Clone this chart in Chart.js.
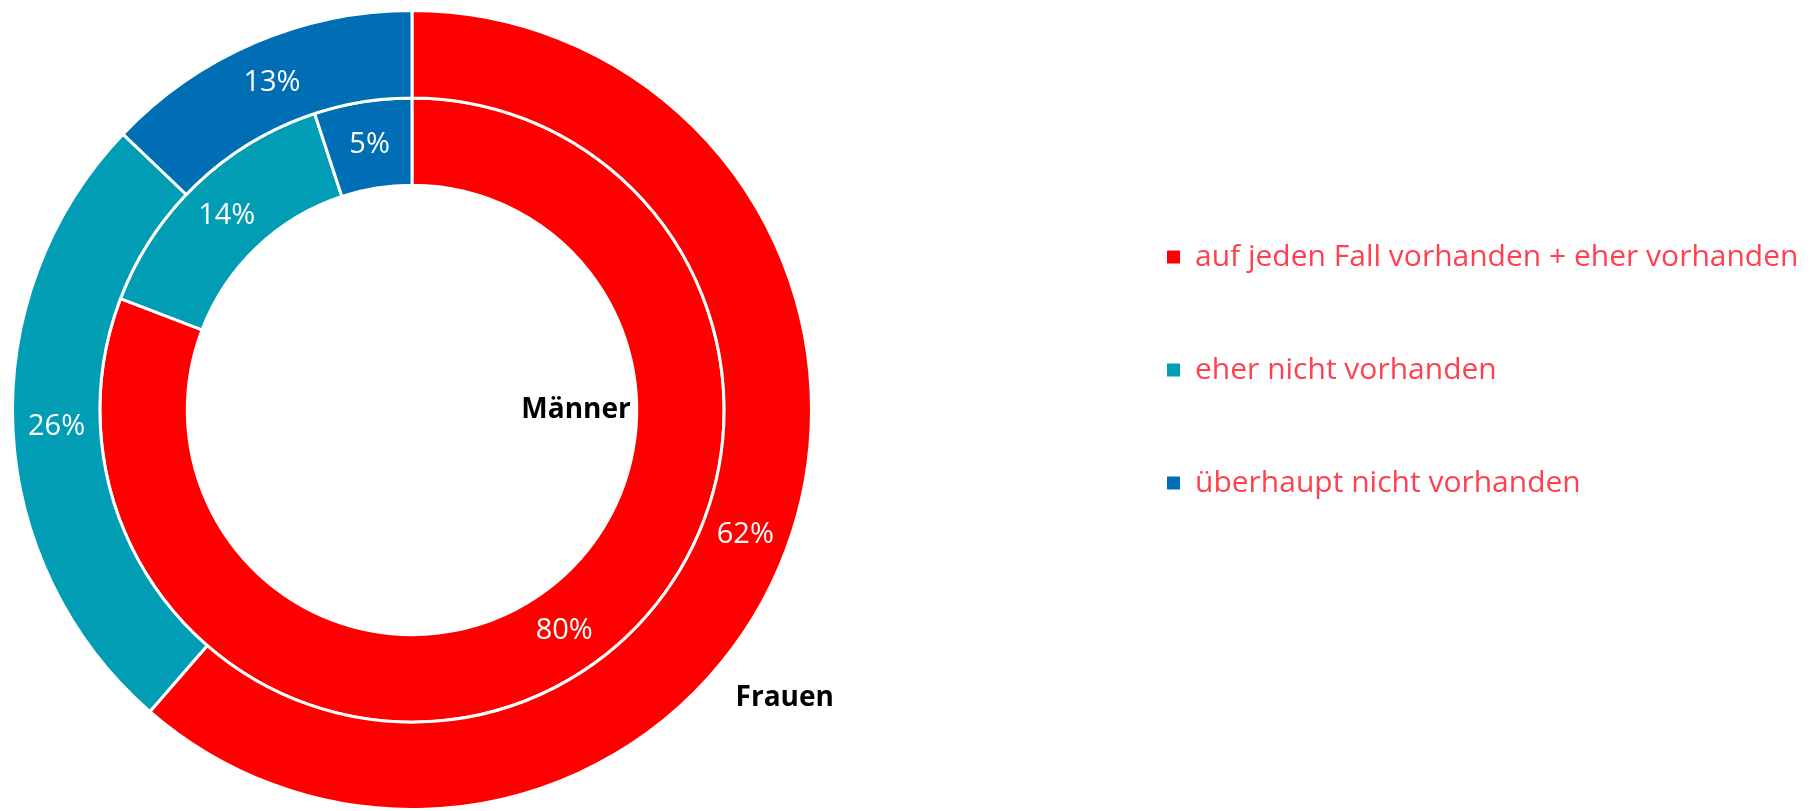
<!DOCTYPE html>
<html>
<head>
<meta charset="utf-8">
<script src="https://cdn.jsdelivr.net/npm/chart.js@4/dist/chart.umd.min.js"></script>
<style>
  html, body { margin: 0; padding: 0; background: #fff; }
  #wrap { width: 1815px; height: 811px; }
</style>
</head>
<body>
<div id="wrap"><canvas id="ringChart" width="1815" height="811"></canvas></div>
<script>
// categories + series (outer ring = Frauen, inner ring = Männer)
const categories = ["auf jeden Fall vorhanden + eher vorhanden", "eher nicht vorhanden", "überhaupt nicht vorhanden"];
const seriesNames = ["Frauen", "Männer"];
const frauen = [62, 26, 13];
const maenner = [80, 14, 5];
const colors = ["#ff0000", "#019db5", "#006eb4"];

const FONT = "'Open Sans', 'Noto Sans', sans-serif";

// percent labels in each slice + the series names
const sliceLabels = {
    id: "sliceLabels",
    afterDatasetsDraw(chart) {
        const ctx = chart.ctx;
        ctx.save();
        ctx.fillStyle = "#fff";
        ctx.font = "29px " + FONT;
        ctx.textAlign = "center";
        ctx.textBaseline = "middle";
        chart.data.datasets.forEach((ds, di) => {
            chart.getDatasetMeta(di).data.forEach((arc, i) => {
                const p = arc.tooltipPosition();
                ctx.fillText(ds.data[i] + "%", p.x, p.y);
            });
        });

        // series names
        const outer = chart.getDatasetMeta(0).data[0];
        const inner = chart.getDatasetMeta(1).data[0];
        ctx.fillStyle = "#000";
        ctx.font = "bold 28px " + FONT;
        ctx.textAlign = "right";
        ctx.fillText(seriesNames[1], inner.x + inner.innerRadius - 6, inner.y);
        ctx.textAlign = "left";
        ctx.fillText(seriesNames[0], outer.x + outer.outerRadius * 0.81, outer.y + outer.outerRadius * 0.72);
        ctx.restore();
    }
};

// keep the ring on the left, legend block further right
const legendPlace = {
    id: "legendPlace",
    afterInit(chart) {
        const lg = chart.legend;
        const fit = lg.fit;
        lg.fit = function () { fit.call(this); this.width = 991; };
    },
    afterLayout(chart) {
        const lg = chart.legend;
        const pad = lg.options.labels.padding;
        lg.left = 1167 - pad;
        lg.right = lg.left + lg.width;
        lg.top = 242 - pad;
        lg.bottom = lg.top + 700;
    }
};

new Chart(document.getElementById("ringChart"), {
    type: "doughnut",
    data: {
        labels: categories,
        datasets: [
            { label: seriesNames[0], data: frauen, backgroundColor: colors, borderColor: "#fff", borderWidth: 3 },
            { label: seriesNames[1], data: maenner, backgroundColor: colors, borderColor: "#fff", borderWidth: 3 }
        ]
    },
    options: {
        responsive: false,
        maintainAspectRatio: false,
        animation: false,
        events: [],
        cutout: "56.25%",
        layout: { padding: { top: 9, left: 0, right: 0, bottom: 0 } },
        plugins: {
            tooltip: { enabled: false },
            legend: {
                position: "right",
                align: "start",
                labels: {
                    color: "#ff404f",
                    font: { family: FONT, size: 30 },
                    boxWidth: 13,
                    boxHeight: 13,
                    padding: 83,
                    generateLabels(chart) {
                        return Chart.overrides.doughnut.plugins.legend.labels.generateLabels(chart)
                            .map(it => ({ ...it, lineWidth: 0 }));
                    }
                }
            }
        }
    },
    plugins: [sliceLabels, legendPlace]
});
</script>
</body>
</html>
